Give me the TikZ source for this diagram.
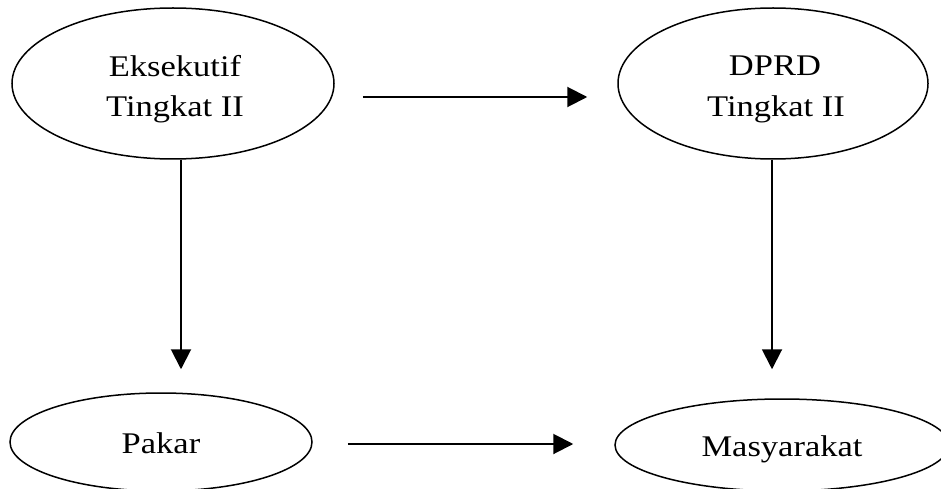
\documentclass[tikz,border=0pt]{standalone}
\usepackage{fontspec}
\setmainfont{Liberation Serif}[FakeStretch=1.15]
\usetikzlibrary{arrows.meta,shapes.geometric}
\tikzset{
  ell/.style={draw=black, line width=1.5pt, ellipse, inner sep=0pt},
  txt/.style={inner sep=0pt, font=\fontsize{30}{36}\selectfont, anchor=base},
  arr/.style={line width=2pt, -{Triangle[length=20pt,width=20pt]}}
}
\begin{document}
\begin{tikzpicture}[x=1pt,y=1pt]
\clip (0,0) rectangle (941,488);
\fill[white] (0,0) rectangle (941,488);
% ellipses (image y measured downward: y = 488 - y_img)
\node[ell, minimum width=322pt, minimum height=151pt] (eks) at (173,404.5) {};
\node[ell, minimum width=310pt, minimum height=151pt] (dprd) at (773,404.5) {};
\node[ell, minimum width=302pt, minimum height=98pt] (pakar) at (161,46) {};
\node[ell, minimum width=334pt, minimum height=92pt] (masy) at (782,43) {};
% texts
\node[txt] (eksA) at (175,411) {Eksekutif};
\node[txt] (eksB) at (175,371) {Tingkat II};
\node[txt] (dprdA) at (775,412) {DPRD};
\node[txt] (dprdB) at (776,371) {Tingkat II};
\node[txt] (pakarT) at (161,35) {Pakar};
\node[txt] (masyT) at (782,32) {Masyarakat};
% connectors
\draw[arr, shorten <=28pt, shorten >=30pt] ([yshift=-13.5pt]eks.east) -- ([yshift=-13.5pt]dprd.west);
\draw[arr, shorten >=23pt] ([xshift=8pt]eks.south) -- ([xshift=20pt]pakar.north);
\draw[arr, shorten >=29pt] ([xshift=-1pt]dprd.south) -- ([xshift=-10pt]masy.north);
\draw[arr, shorten <=35pt, shorten >=41pt] ([yshift=-2pt]pakar.east) -- ([yshift=-2pt]pakar.east -| masy.west);
\end{tikzpicture}
\end{document}
